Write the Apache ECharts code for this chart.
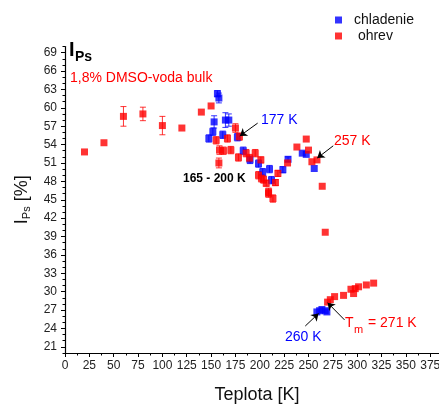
<!DOCTYPE html>
<html><head><meta charset="utf-8">
<script src="https://cdn.jsdelivr.net/npm/echarts@6/dist/echarts.min.js"></script>
<style>html,body{margin:0;padding:0;background:#fff}#c{width:439px;height:410px}</style>
</head><body><div id="c"></div>
<script>
const F = "'Liberation Sans', Arial, sans-serif";
// tick labels
const xTickLabels = [0,25,50,75,100,125,150,175,200,225,250,275,300,325,350,375];
const xMinorTicks = [12.5,37.5,62.5,87.5,112.5,137.5,162.5,187.5,212.5,237.5,262.5,287.5,312.5,337.5,362.5];
const yTickLabels = [21,24,27,30,33,36,39,42,45,48,51,54,57,60,63,66,69];
// cooling (chladenie)
const coolT = [147.7,151.8,153.1,156.5,158,162,164.7,168.2,177,183,190,198.7,203,210,212,223.7,229,243.6,247.7,255.9,258.6,261.4,263.8,267.2,268.9];
const coolI = [55.0,56.1,57.7,62.3,61.6,55.6,58.0,58.0,55.2,53.0,51.5,50.9,49.5,50.0,48.2,49.9,51.6,52.6,52.4,50.1,26.7,26.9,27.1,26.9,26.7];
const coolErr = [0.6,0.6,1.0,0.5,0.8,0.6,1.2,1.0,0.6,0.6,0.6,0.6,0.6,0.6,0.6,0.5,0.4,0,0,0,0,0,0,0,0];
// heating (ohrev)
const heatT = [20,40,60,80,100,120,140,150,155.2,158.6,162.7,158,166.8,170.3,175,179.1,178.1,186,189.4,195.3,201.1,198.7,201.7,203.8,206.6,209,209,213.5,216.1,218.6,228.5,238.1,247.7,250,253.5,258.7,264.1,267.2,269.6,272.4,276.8,286,293.6,296.3,298,301.4,309.4,316.9];
const heatI = [52.8,54.3,58.6,59.0,57.1,56.7,59.3,60.3,54.7,53.1,53.0,51.0,55.0,53.1,56.7,55.3,51.9,52.6,51.8,52.6,51.5,49.0,48.5,48.3,47.7,46.0,46.3,45.2,47.8,49.3,51.0,53.6,54.9,53.1,51.2,51.5,47.2,39.7,28.3,28.7,29.2,29.4,30.4,29.7,30.5,30.8,31.1,31.4];
const heatErr = [0,0,1.6,1.1,1.5,0,0,0,0.6,0.7,0.6,0.8,0.6,0.6,0.7,0.6,0.6,0.6,0.6,0.6,0.5,0.6,0.6,0.6,0.5,0.6,0.6,0.6,0.5,0.5,0,0,0,0,0,0,0,0,0,0,0,0,0,0,0,0,0,0];
// annotation arrows [xStart, yStart, xEnd, yEnd] in data units
const arrows = [[197.8,57.5,179.5,55.4],[275.4,53.8,259,51.8],[246.7,24.4,260.3,26.45],[287,25.4,269.6,28.2]];

const BLUE = '#0000ff', RED = '#ff0000';
function pts(T, I){ return T.map((t,i)=>[t, I[i]]); }
function errSeries(T, I, E, color){
  const d = [];
  T.forEach((t,i)=>{ if (E[i] > 0) d.push([t, I[i], E[i]]); });
  return {
    type:'custom', silent:true, z:1, data:d, encode:{x:0, y:1},
    renderItem:(params, api)=>{
      const x = api.value(0), y = api.value(1), e = api.value(2);
      const lo = api.coord([x, y-e]), hi = api.coord([x, y+e]); const w = 3;
      const st = {stroke:color, lineWidth:1, opacity:0.8};
      return {type:'group', children:[
        {type:'line', shape:{x1:lo[0],y1:lo[1],x2:hi[0],y2:hi[1]}, style:st},
        {type:'line', shape:{x1:lo[0]-w,y1:lo[1],x2:lo[0]+w,y2:lo[1]}, style:st},
        {type:'line', shape:{x1:hi[0]-w,y1:hi[1],x2:hi[0]+w,y2:hi[1]}, style:st}
      ]};
    }
  };
}
const chart = echarts.init(document.getElementById('c'), null, {renderer:'canvas'});
const axisLbl = {color:'#222', fontSize:12, fontFamily:F};
chart.setOption({
  animation:false,
  grid:{left:65, right:0, top:46.5, bottom:57, containLabel:false, outerBoundsMode:'none'},
  legend:{orient:'vertical', left:330, top:8, itemWidth:7, itemHeight:7, itemGap:2, icon:'rect',
    data:['chladenie',' ohrev'], textStyle:{fontSize:14, color:'#111', fontFamily:F, padding:[0,0,0,7]}},
  xAxis:[
    {type:'value', min:0, max:384,
      axisLine:{lineStyle:{color:'#000', width:1.2}},
      axisTick:{length:4, customValues:xTickLabels, lineStyle:{color:'#000'}},
      axisLabel:Object.assign({margin:7, customValues:xTickLabels}, axisLbl), splitLine:{show:false},
      name:'Teplota [K]', nameLocation:'middle', nameGap:33,
      nameTextStyle:{fontSize:18, color:'#111', fontFamily:F, padding:[0,0,0,10]}},
    {type:'value', min:0, max:384, position:'bottom', offset:0,
      axisLine:{show:false}, axisTick:{length:2.5, customValues:xMinorTicks, lineStyle:{color:'#000'}},
      axisLabel:{show:false, customValues:xMinorTicks}, splitLine:{show:false}}
  ],
  yAxis:[
    {type:'value', min:20, max:70, position:'left',
      axisLine:{lineStyle:{color:'#000', width:1.2}},
      axisTick:{length:4, customValues:yTickLabels, lineStyle:{color:'#000'}},
      axisLabel:Object.assign({margin:8, customValues:yTickLabels}, axisLbl), splitLine:{show:false},
      name:'{a|I}{b|Ps}{a| [%]}', nameLocation:'middle', nameGap:31,
      nameTextStyle:{fontFamily:F, color:'#111', rich:{
        a:{fontSize:18, fontFamily:F, color:'#111', lineHeight:22, verticalAlign:'middle'},
        b:{fontSize:11, fontFamily:F, color:'#111', lineHeight:11, verticalAlign:'bottom'}}}},
    {type:'value', min:20, max:70, interval:1, position:'left', offset:0,
      axisLine:{show:false}, axisTick:{length:2.5, lineStyle:{color:'#000'}},
      axisLabel:{show:false}, splitLine:{show:false}}
  ],
  graphic:[
    {type:'text', left:69, top:40, style:{text:'I', font:'bold 20px '+F, fill:'#000'}},
    {type:'text', left:75, top:50, style:{text:'Ps', font:'bold 14px '+F, fill:'#000'}},
    {type:'text', left:70, top:71, style:{text:'1,8% DMSO-voda bulk', font:'14px '+F, fill:RED}},
    {type:'text', left:261, top:113, style:{text:'177 K', font:'14px '+F, fill:BLUE}},
    {type:'text', left:334, top:134, style:{text:'257 K', font:'14px '+F, fill:RED}},
    {type:'text', left:183, top:173, style:{text:'165 - 200 K', font:'bold 12px '+F, fill:'#000'}},
    {type:'text', left:285, top:330, style:{text:'260 K', font:'14px '+F, fill:BLUE}},
    {type:'text', left:345, top:316, style:{text:'T', font:'14px '+F, fill:RED}},
    {type:'text', left:354, top:324, style:{text:'m', font:'11px '+F, fill:RED}},
    {type:'text', left:368, top:316, style:{text:'= 271 K', font:'14px '+F, fill:RED}}
  ],
  series:[
    errSeries(coolT, coolI, coolErr, BLUE),
    {name:'chladenie', type:'scatter', symbol:'rect', symbolSize:7, itemStyle:{color:BLUE}, z:2, data:pts(coolT, coolI)},
    errSeries(heatT, heatI, heatErr, RED),
    {name:' ohrev', type:'scatter', symbol:'rect', symbolSize:7, itemStyle:{color:RED}, z:3, data:pts(heatT, heatI)},
    {type:'line', data:[], silent:true, z:5,
      markLine:{silent:true, animation:false, symbol:['none','arrow'], symbolSize:7,
        lineStyle:{color:'#000', width:1, type:'solid'}, label:{show:false},
        data:arrows.map(a=>[{coord:[a[0],a[1]]},{coord:[a[2],a[3]]}])}}
  ]
});
</script></body></html>
